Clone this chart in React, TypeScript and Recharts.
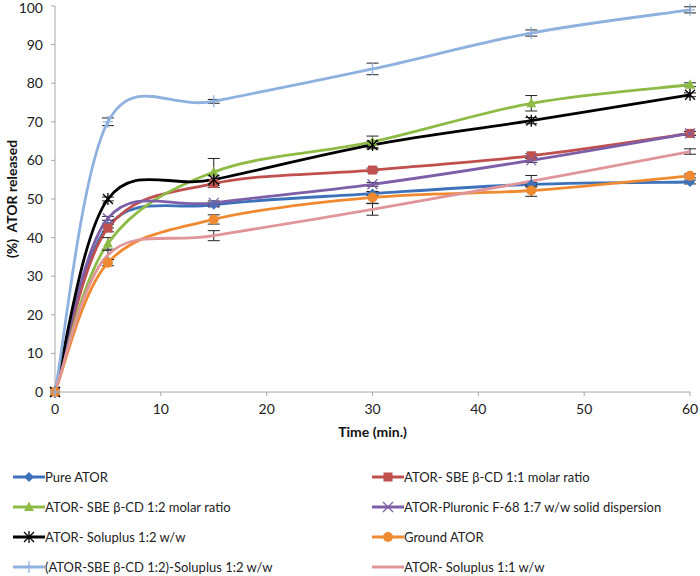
import React from "react";
import { LineChart, Line, XAxis, YAxis, ErrorBar, Label } from "recharts";

const times = [0, 5, 15, 30, 45, 60];
const xTicks = [0, 10, 20, 30, 40, 50, 60];
const yTicks = [0, 10, 20, 30, 40, 50, 60, 70, 80, 90, 100];

const pure = [0, 43, 48.5, 51.4, 53.8, 54.4];
const sbe11 = [0, 42.5, 54, 57.5, 61.2, 67];
const sbe12 = [0, 38.5, 57, 64.8, 74.8, 79.6];
const pluronic = [0, 45, 49, 53.8, 60, 67];
const solu12 = [0, 50, 55, 64, 70.3, 77];
const ground = [0, 33.5, 44.7, 50.4, 52.2, 56];
const ternary = [0, 70, 75.3, 83.7, 93, 99];
const solu11 = [0, 35.5, 40.5, 47.3, 54.6, 62.3];

const pureErr = [0, 0.5, 0.5, 0.5, 0.5, 0.5];
const sbe11Err = [0, 1, 1, 0.5, 0.5, 0.5];
const sbe12Err = [0, 1.5, 3.5, 1.5, 2, 0.5];
const pluronicErr = [0, 0.5, 0.5, 0.5, 0.5, 0.5];
const solu12Err = [0, 0.5, 1, 1, 0.8, 0.5];
const groundErr = [0, 0.8, 1.2, 1.5, 1.5, 0.5];
const ternaryErr = [0, 1, 0.5, 1.5, 0.8, 0.8];
const solu11Err = [0, 1.2, 1.3, 1.5, 1.5, 0.7];

type Marker = "diamond" | "square" | "triangle" | "x" | "star" | "circle" | "plus" | "none";

const seriesList = [
  { key: "pure", name: "Pure ATOR", values: pure, err: pureErr, color: "#3d72bb", marker: "diamond" as Marker },
  { key: "sbe11", name: "ATOR- SBE \u03b2-CD 1:1 molar ratio", values: sbe11, err: sbe11Err, color: "#c0504d", marker: "square" as Marker },
  { key: "sbe12", name: "ATOR- SBE \u03b2-CD 1:2 molar ratio", values: sbe12, err: sbe12Err, color: "#8dbb45", marker: "triangle" as Marker },
  { key: "pluronic", name: "ATOR-Pluronic F-68 1:7 w/w solid dispersion", values: pluronic, err: pluronicErr, color: "#7d5fa8", marker: "x" as Marker },
  { key: "solu12", name: "ATOR- Soluplus 1:2 w/w", values: solu12, err: solu12Err, color: "#000000", marker: "star" as Marker },
  { key: "ground", name: "Ground ATOR", values: ground, err: groundErr, color: "#f08a30", marker: "circle" as Marker },
  { key: "ternary", name: "(ATOR-SBE \u03b2-CD 1:2)-Soluplus 1:2 w/w", values: ternary, err: ternaryErr, color: "#8fb1e0", marker: "plus" as Marker },
  { key: "solu11", name: "ATOR- Soluplus 1:1 w/w", values: solu11, err: solu11Err, color: "#e0959a", marker: "none" as Marker },
];

const data = times.map((t, i) => {
  const row: any = { t };
  seriesList.forEach((s) => {
    row[s.key] = s.values[i];
    row[s.key + "Err"] = s.err[i];
  });
  return row;
});

// Excel-like smoothed line (Catmull-Rom style bezier)
const smoothCurve = (context: any) => {
  let pts: [number, number][] = [];
  return {
    areaStart() {},
    areaEnd() {},
    lineStart() {
      pts = [];
    },
    point(x: number, y: number) {
      pts.push([+x, +y]);
    },
    lineEnd() {
      if (!pts.length) return;
      context.moveTo(pts[0][0], pts[0][1]);
      for (let i = 0; i < pts.length - 1; i++) {
        const p0 = pts[Math.max(0, i - 1)];
        const p1 = pts[i];
        const p2 = pts[i + 1];
        const p3 = pts[Math.min(pts.length - 1, i + 2)];
        context.bezierCurveTo(
          p1[0] + (p2[0] - p0[0]) / 6,
          p1[1] + (p2[1] - p0[1]) / 6,
          p2[0] - (p3[0] - p1[0]) / 6,
          p2[1] - (p3[1] - p1[1]) / 6,
          p2[0],
          p2[1]
        );
      }
    },
  };
};

const drawMarker = (marker: Marker, cx: number, cy: number, color: string) => {
  switch (marker) {
    case "diamond":
      return <polygon points={`${cx},${cy - 5} ${cx + 5},${cy} ${cx},${cy + 5} ${cx - 5},${cy}`} fill={color} />;
    case "square":
      return <rect x={cx - 4.5} y={cy - 4.5} width={9} height={9} fill={color} />;
    case "triangle":
      return <polygon points={`${cx},${cy - 5.5} ${cx + 5},${cy + 4} ${cx - 5},${cy + 4}`} fill={color} />;
    case "circle":
      return <circle cx={cx} cy={cy} r={5} fill={color} />;
    case "x":
      return (
        <g stroke={color} strokeWidth={1.3}>
          <line x1={cx - 5} y1={cy - 5} x2={cx + 5} y2={cy + 5} />
          <line x1={cx - 5} y1={cy + 5} x2={cx + 5} y2={cy - 5} />
        </g>
      );
    case "star":
      return (
        <g stroke={color} strokeWidth={1.3}>
          <line x1={cx - 5} y1={cy - 5} x2={cx + 5} y2={cy + 5} />
          <line x1={cx - 5} y1={cy + 5} x2={cx + 5} y2={cy - 5} />
          <line x1={cx} y1={cy - 6} x2={cx} y2={cy + 6} />
        </g>
      );
    case "plus":
      return (
        <g stroke={color} strokeWidth={1.3}>
          <line x1={cx} y1={cy - 6} x2={cx} y2={cy + 6} />
          <line x1={cx - 5} y1={cy} x2={cx + 5} y2={cy} />
        </g>
      );
    default:
      return null;
  }
};

const makeDot = (marker: Marker, color: string) => (props: any) => {
  const { cx, cy, index } = props;
  return <g key={`d-${index}`}>{drawMarker(marker, cx, cy, color)}</g>;
};

const font = "Lato, 'Open Sans', sans-serif";

const LegendItem = ({ s }: { s: (typeof seriesList)[number] }) => (
  <div style={{ display: "flex", alignItems: "center", height: 30 }}>
    <svg width={32} height={14} style={{ flex: "none" }}>
      <line x1={0} y1={7} x2={32} y2={7} stroke={s.color} strokeWidth={3} />
      {drawMarker(s.marker, 16, 7, s.color)}
    </svg>
    <span style={{ fontSize: 13, color: "#222", whiteSpace: "nowrap" }}>{s.name}</span>
  </div>
);

export default function App() {
  return (
    <div style={{ position: "absolute", left: 0, top: 0, width: 700, height: 576, fontFamily: font, background: "#fff", overflow: "hidden" }}>
      <LineChart width={700} height={450} data={data} margin={{ top: 6, right: 10, left: 0, bottom: 13 }}>
        <XAxis
          dataKey="t"
          type="number"
          domain={[0, 60]}
          ticks={xTicks}
          stroke="#a6a6a6"
          tickSize={4}
          tickMargin={8}
          height={45}
          tick={{ fill: "#222", fontSize: 14, fontFamily: font }}
        >
          <Label value="Time (min.)" position="insideBottom" offset={0} style={{ fontWeight: 700, fontSize: 14, fill: "#111", fontFamily: font }} />
        </XAxis>
        <YAxis
          type="number"
          domain={[0, 100]}
          ticks={yTicks}
          stroke="#a6a6a6"
          tickSize={4}
          tickMargin={8}
          width={55}
          tick={{ fill: "#222", fontSize: 14, fontFamily: font }}
        >
          <Label
            value={"(%)\u00a0\u00a0ATOR released"}
            angle={-90}
            position="insideLeft"
            offset={12}
            style={{ textAnchor: "middle", fontWeight: 700, fontSize: 14, fill: "#111", fontFamily: font }}
          />
        </YAxis>
        {seriesList.map((s) => (
          <Line
            key={s.key}
            dataKey={s.key}
            name={s.name}
            type={smoothCurve as any}
            stroke={s.color}
            strokeWidth={2.8}
            dot={makeDot(s.marker, s.color)}
            activeDot={false}
            isAnimationActive={false}
          >
            <ErrorBar dataKey={s.key + "Err"} width={6} stroke="#222" strokeWidth={1} direction="y" />
          </Line>
        ))}
      </LineChart>
      <div style={{ position: "absolute", left: 13, top: 462 }}>
        {seriesList.filter((_, i) => i % 2 === 0).map((s) => (
          <LegendItem key={s.key} s={s} />
        ))}
      </div>
      <div style={{ position: "absolute", left: 372, top: 462 }}>
        {seriesList.filter((_, i) => i % 2 === 1).map((s) => (
          <LegendItem key={s.key} s={s} />
        ))}
      </div>
    </div>
  );
}
